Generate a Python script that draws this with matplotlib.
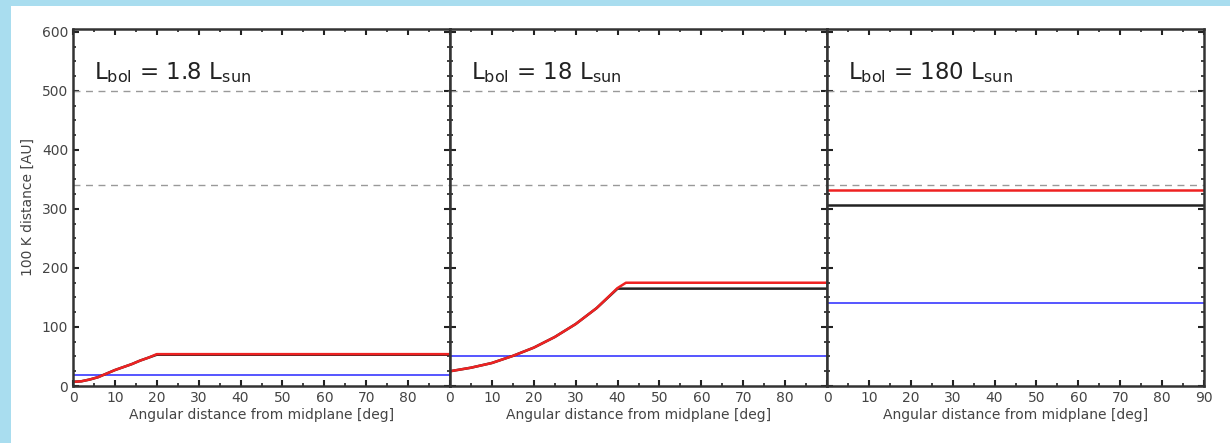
import numpy as np
import matplotlib
matplotlib.use("Agg")
import matplotlib.pyplot as plt
from matplotlib.patches import Rectangle
from matplotlib.ticker import MultipleLocator

plt.rcParams['font.family'] = ['DejaVu Sans']
plt.rcParams['mathtext.fontset'] = 'dejavusans'

# panel titles
titles = ['1.8', '18', '180']

# red curves (angle, distance) per panel
red_x = [[0, 2, 4, 6, 8, 10, 12, 14, 16, 18, 20, 90],
         [0, 5, 10, 15, 20, 25, 30, 35, 40, 42, 90],
         [0, 90]]
red_y = [[7, 8, 11, 15, 21, 27, 32, 37, 43, 48, 54, 54],
         [25, 31, 39, 51, 65, 83, 105, 132, 166, 175, 175],
         [333, 333]]

# black curves
black_x = [[0, 2, 4, 6, 8, 10, 12, 14, 16, 18, 20, 90],
           [0, 5, 10, 15, 20, 25, 30, 35, 40, 90],
           [0, 90]]
black_y = [[7, 8, 11, 15, 21, 27, 32, 37, 43, 48, 53, 53],
           [25, 31, 39, 51, 65, 83, 105, 132, 165, 165],
           [306, 306]]

# blue levels
blue_y = [19, 51, 140]

# dashed reference levels
dashed = [500, 340]

fig = plt.figure(figsize=(12.3, 4.43), dpi=100)
fig.patch.set_facecolor('#a9ddef')
bg = Rectangle((11 / 1230, 0), 1 - 11 / 1230, 1 - 6 / 443,
               transform=fig.transFigure, facecolor='white',
               edgecolor='none', zorder=-10)
fig.add_artist(bg)

left, right = 73 / 1230, 1204 / 1230
bottom, top = 1 - 386 / 443, 1 - 29 / 443
w = (right - left) / 3

for i in range(3):
    ax = fig.add_axes([left + i * w, bottom, w, top - bottom])
    ax.set_zorder(1)
    ax.set_facecolor('white')
    for yv in dashed:
        ax.axhline(yv, color='#999999', lw=1.0, ls=(0, (5, 4)))
    ax.axhline(blue_y[i], color='#5555ff', lw=1.4)
    ax.plot(black_x[i], black_y[i], color='#222222', lw=1.8)
    ax.plot(red_x[i], red_y[i], color='#ee2222', lw=1.8)

    ax.set_xlim(0, 90)
    ax.set_ylim(0, 605)
    ax.xaxis.set_major_locator(MultipleLocator(10))
    ax.xaxis.set_minor_locator(MultipleLocator(5))
    ax.yaxis.set_major_locator(MultipleLocator(100))
    ax.yaxis.set_minor_locator(MultipleLocator(25))
    ax.tick_params(which='both', direction='in', top=True, right=True,
                   color='#222222', labelcolor='#444444', labelsize=10)
    ax.tick_params(which='major', length=4, width=1.5)
    ax.tick_params(which='minor', length=2.5, width=1.2)
    for s in ax.spines.values():
        s.set_linewidth(1.8)
        s.set_color('#333333')

    if i < 2:
        ax.set_xticks(np.arange(0, 90, 10))
    ax.set_xlabel('Angular distance from midplane [deg]', fontsize=10,
                  color='#444444', labelpad=2)
    if i == 0:
        ax.set_ylabel('100 K distance [AU]', fontsize=10, color='#444444', labelpad=5)
    else:
        ax.set_yticklabels([])

    ax.text(0.057, 0.86, r'L$_{\mathregular{bol}}$ = ' + titles[i] + r' L$_{\mathregular{sun}}$',
            transform=ax.transAxes, fontsize=16.5, color='#222222')

fig.savefig('out.png', dpi=100, facecolor=fig.get_facecolor())
